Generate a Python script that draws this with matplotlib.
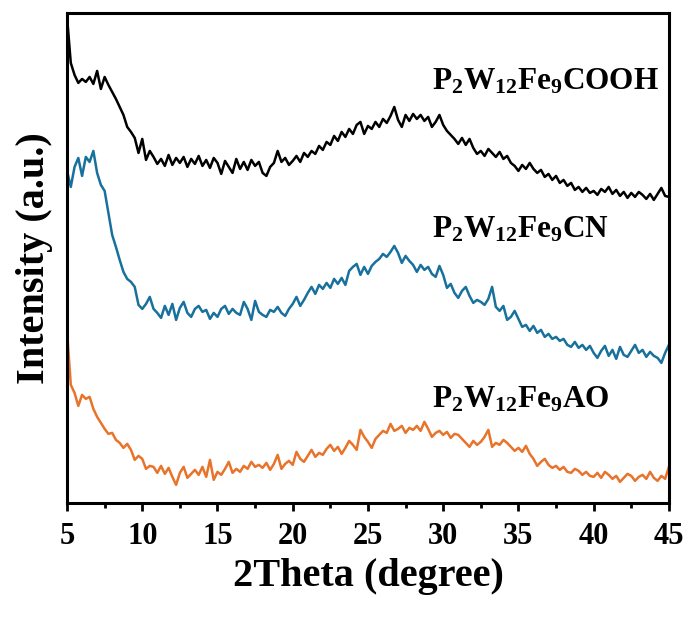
import numpy as np
import matplotlib
matplotlib.use("Agg")
import matplotlib.pyplot as plt
from matplotlib.ticker import MultipleLocator

plt.rcParams['font.family'] = 'Liberation Serif'
plt.rcParams['font.weight'] = 'bold'
plt.rcParams['mathtext.fontset'] = 'custom'
plt.rcParams['mathtext.rm'] = 'Liberation Serif:bold'
plt.rcParams['mathtext.bf'] = 'Liberation Serif:bold'

# XRD intensities (a.u., curves already stacked), sampled every 0.25 deg from 5 to 45
cooh = [486, 440, 428, 420, 424, 421, 426, 419, 432, 414, 426, 418, 411, 404, 396, 388,
        376, 371, 365, 350, 364, 343, 352, 346, 339, 344, 337, 348, 338, 345, 340, 346,
        336, 344, 339, 347, 337, 343, 335, 345, 340, 329, 342, 336, 330, 344, 334, 341,
        333, 343, 337, 341, 330, 327, 336, 340, 352, 341, 345, 338, 342, 347, 341, 350,
        346, 352, 349, 357, 353, 361, 358, 367, 362, 371, 366, 374, 369, 378, 381, 369,
        377, 374, 381, 376, 384, 380, 387, 396, 383, 376, 388, 382, 389, 384, 388, 382,
        386, 376, 381, 388, 378, 372, 368, 364, 359, 365, 358, 364, 355, 349, 352, 347,
        354, 350, 346, 351, 344, 347, 340, 337, 332, 338, 334, 340, 334, 330, 333, 326,
        329, 323, 327, 320, 323, 317, 320, 313, 316, 311, 315, 310, 312, 308, 314, 311,
        316, 309, 313, 307, 311, 305, 310, 306, 311, 308, 304, 309, 303, 309, 315, 307,
        306]

cn = [332, 316, 336, 345, 327, 346, 341, 352, 330, 318, 312, 290, 268, 256, 243, 231,
      224, 221, 216, 198, 194, 199, 206, 194, 190, 185, 197, 188, 199, 183, 195, 201,
      190, 186, 194, 197, 191, 193, 184, 190, 186, 194, 197, 189, 194, 190, 188, 201,
      194, 183, 202, 191, 188, 186, 193, 191, 196, 190, 187, 194, 199, 206, 197, 203,
      210, 216, 209, 218, 214, 220, 215, 224, 219, 225, 218, 232, 236, 239, 228, 236,
      229, 237, 241, 244, 249, 246, 251, 257, 250, 240, 247, 242, 238, 231, 238, 233,
      236, 229, 226, 237, 228, 215, 219, 210, 205, 212, 216, 207, 200, 203, 201, 198,
      204, 216, 196, 192, 197, 183, 186, 192, 184, 176, 178, 172, 177, 170, 173, 166,
      169, 164, 166, 162, 164, 158, 156, 161, 155, 158, 153, 157, 150, 145, 152, 157,
      147, 153, 144, 156, 148, 146, 152, 158, 150, 153, 146, 151, 147, 145, 140, 150,
      158]

ao = [172, 118, 110, 97, 108, 104, 106, 94, 86, 80, 74, 69, 70, 63, 60, 55,
      59, 53, 43, 47, 44, 34, 37, 36, 30, 37, 29, 35, 26, 18, 30, 36,
      25, 29, 33, 28, 36, 26, 43, 23, 31, 28, 34, 41, 30, 34, 31, 37,
      34, 41, 36, 38, 35, 40, 33, 39, 48, 34, 39, 42, 38, 51, 44, 41,
      47, 53, 46, 50, 48, 54, 58, 52, 56, 49, 55, 62, 58, 53, 73, 66,
      61, 55, 64, 68, 72, 70, 79, 72, 74, 77, 70, 75, 73, 77, 72, 81,
      74, 66, 70, 72, 68, 71, 65, 69, 68, 64, 60, 56, 62, 58, 61, 66,
      73, 56, 60, 58, 63, 60, 56, 52, 55, 51, 57, 49, 44, 37, 41, 44,
      38, 35, 37, 33, 36, 31, 30, 34, 32, 28, 31, 27, 26, 30, 25, 31,
      28, 24, 27, 21, 25, 29, 27, 22, 26, 28, 24, 31, 25, 22, 27, 24,
      36]

series = [
    (cooh, '#000000', r'$\mathrm{P_2W_{12}Fe_9COOH}$', 421),
    (cn, '#17719c', r'$\mathrm{P_2W_{12}Fe_9CN}$', 273),
    (ao, '#e8732a', r'$\mathrm{P_2W_{12}Fe_9AO}$', 103),
]

fig = plt.figure(figsize=(6.91, 6.17), dpi=100)
ax = fig.add_axes([0.097, 0.185, 0.871, 0.794])

for vals, color, label, ylab in series:
    x = np.linspace(5, 45, len(vals))
    ax.plot(x, vals, color=color, lw=1.8, solid_joinstyle='round')
    ax.text(29.27, ylab, label, fontsize=22.5, ha='left', va='center', color='black')

ax.set_xlim(5, 45)
ax.set_ylim(0, 490)
ax.set_yticks([])
ax.xaxis.set_major_locator(MultipleLocator(5))
ax.xaxis.set_minor_locator(MultipleLocator(2.5))
ax.tick_params(axis='x', which='major', direction='out', length=6, width=2,
               labelsize=22, pad=8)
ax.tick_params(axis='x', which='minor', direction='out', length=3.5, width=2)
for lab in ax.get_xticklabels():
    lab.set_fontweight('bold')
for sp in ax.spines.values():
    sp.set_linewidth(2.2)

ax.set_xlabel('2Theta (degree)', fontsize=29, fontweight='bold', labelpad=5)
ax.set_ylabel('Intensity (a.u.)', fontsize=29, fontweight='bold', labelpad=10)

fig.savefig('out.png', dpi=100)
